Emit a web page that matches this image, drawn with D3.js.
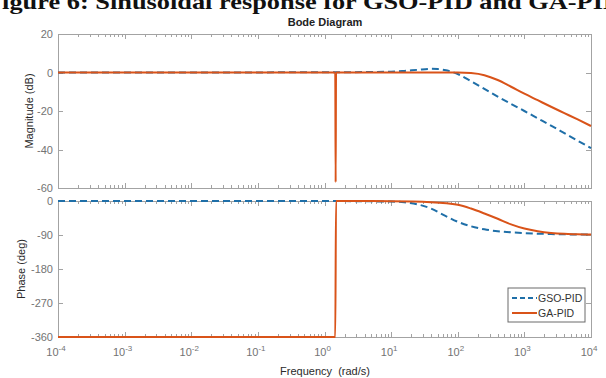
<!DOCTYPE html>
<html>
<head>
<meta charset="utf-8">
<script src="https://cdn.jsdelivr.net/npm/d3@7/dist/d3.min.js"></script>
<style>
body { margin: 0; background: #fff; }
svg text { font-family: "Liberation Sans", Arial, Helvetica, sans-serif; }
.axis path, .axis line { stroke: #a3a3a3; stroke-width: 1; shape-rendering: crispEdges; }
</style>
</head>
<body>
<svg id="chart" width="606" height="378"></svg>
<script>
// frequencies in rad/s, magnitude in dB, phase in deg
var gsoMagW = [0.0001, 1, 10, 15.8, 25.1, 39.8, 50.1, 63.1, 79.4, 100, 158, 251, 398, 631, 1000, 1585, 2512, 3981, 6310, 10000];
var gsoMag  = [0, 0.1, 0.4, 0.8, 1.4, 1.9, 1.8, 1.3, 0.5, -0.8, -4.5, -8.5, -12.5, -16.3, -20.0, -23.8, -27.6, -31.5, -35.4, -39.3];

var gaMagW = [0.0001, 1.45, 1.47, 1.49, 10, 100, 158, 251, 398, 631, 1000, 1585, 2512, 3981, 6310, 10000];
var gaMag  = [0, 0, -57, 0, 0, 0, -0.3, -1.4, -3.9, -7.4, -11.0, -14.4, -17.8, -21.1, -24.4, -27.8];

var gsoPhW = [0.0001, 1, 10, 15.8, 25.1, 39.8, 63.1, 100, 158, 251, 398, 631, 1000, 2512, 10000];
var gsoPh  = [0, -0.2, -1.5, -3.5, -9, -20, -38, -55, -67, -75, -80, -83, -85, -87.5, -89];

var gaPhW = [0.0001, 1.4, 1.45, 1.49, 1.55, 10, 39.8, 100, 158, 251, 398, 631, 1000, 1585, 2512, 3981, 6310, 10000];
var gaPh  = [-360, -360, -360, 0, 0, -0.5, -3, -10, -20, -33, -47, -62, -73, -80, -84.5, -87, -88, -89];

var xDecades = [-4, -3, -2, -1, 0, 1, 2, 3, 4];
var magTicks = [20, 0, -20, -40, -60];
var phTicks = [0, -90, -180, -270, -360];
var seriesNames = ["GSO-PID", "GA-PID"];
var colors = ["#1f6fa8", "#d95319"];

var svg = d3.select("#chart");

// scales
var x = d3.scaleLog().domain([1e-4, 1e4]).range([58, 591]);
var yMag = d3.scaleLinear().domain([-60, 20]).range([188, 34]);
var yPh = d3.scaleLinear().domain([-360, 0]).range([337, 201]);

var majors = xDecades.map(function(d) { return Math.pow(10, d); });
var minors = [];
xDecades.slice(0, -1).forEach(function(d) {
  for (var k = 2; k <= 9; k++) minors.push(k * Math.pow(10, d));
});

// caption, clipped at the top of the picture
svg.append("text")
    .attr("x", -14).attr("y", 9)
    .attr("textLength", 636)
    .attr("lengthAdjust", "spacingAndGlyphs")
    .style("font-family", "'Liberation Serif', 'Times New Roman', serif")
    .style("font-weight", "bold")
    .style("font-size", "22px")
    .attr("fill", "#111")
    .text("Figure 6: Sinusoidal response for GSO-PID and GA-PID");

svg.append("text")
    .attr("x", 325).attr("y", 26)
    .attr("text-anchor", "middle")
    .style("font-weight", "bold").style("font-size", "11px")
    .attr("fill", "#222")
    .text("Bode Diagram");

function drawBox(y, ticks) {
  var y0 = y.range()[0], y1 = y.range()[1];
  // bottom + top, majors and minors, ticks pointing inward
  svg.append("g").attr("class", "axis").attr("transform", "translate(0," + y0 + ")")
      .call(d3.axisBottom(x).tickValues(majors).tickSize(-5).tickSizeOuter(0).tickFormat(""));
  svg.append("g").attr("class", "axis").attr("transform", "translate(0," + y0 + ")")
      .call(d3.axisBottom(x).tickValues(minors).tickSize(-3).tickSizeOuter(0).tickFormat(""));
  svg.append("g").attr("class", "axis").attr("transform", "translate(0," + y1 + ")")
      .call(d3.axisTop(x).tickValues(majors).tickSize(-5).tickSizeOuter(0).tickFormat(""));
  svg.append("g").attr("class", "axis").attr("transform", "translate(0," + y1 + ")")
      .call(d3.axisTop(x).tickValues(minors).tickSize(-3).tickSizeOuter(0).tickFormat(""));
  // left + right
  var left = svg.append("g").attr("class", "axis").attr("transform", "translate(" + x.range()[0] + ",0)")
      .call(d3.axisLeft(y).tickValues(ticks).tickSize(-5).tickSizeOuter(0).tickPadding(5)
        .tickFormat(function(d) { return String(d); }));
  left.selectAll("text").attr("fill", "#737373").style("font-size", "11px")
      .style("font-family", "'Liberation Sans', Arial, sans-serif");
  svg.append("g").attr("class", "axis").attr("transform", "translate(" + x.range()[1] + ",0)")
      .call(d3.axisRight(y).tickValues(ticks).tickSize(-5).tickSizeOuter(0).tickFormat(""));
  svg.selectAll(".axis .domain").attr("stroke", "#a3a3a3");
}

drawBox(yMag, magTicks);
drawBox(yPh, phTicks);

// x tick labels 10^n
xDecades.forEach(function(d) {
  var t = svg.append("text")
      .attr("x", x(Math.pow(10, d)) - 2).attr("y", 356)
      .attr("text-anchor", "middle")
      .attr("fill", "#737373").style("font-size", "11px");
  t.append("tspan").text("10");
  t.append("tspan").attr("dy", -5).style("font-size", "8px").text(String(d));
});

// axis titles
svg.append("text")
    .attr("transform", "translate(33," + ((yMag.range()[0] + yMag.range()[1]) / 2) + ") rotate(-90)")
    .attr("text-anchor", "middle").attr("fill", "#2a2a2a").style("font-size", "11px")
    .text("Magnitude (dB)");
svg.append("text")
    .attr("transform", "translate(25," + ((yPh.range()[0] + yPh.range()[1]) / 2) + ") rotate(-90)")
    .attr("text-anchor", "middle").attr("fill", "#2a2a2a").style("font-size", "11px")
    .text("Phase (deg)");
svg.append("text")
    .attr("x", 325).attr("y", 375)
    .attr("text-anchor", "middle").attr("fill", "#2a2a2a").style("font-size", "11px")
    .attr("xml:space", "preserve")
    .text("Frequency  (rad/s)");

// curves
function zipPts(w, v) { return w.map(function(d, i) { return [d, v[i]]; }); }

function drawLine(pts, y, i) {
  var line = d3.line()
      .x(function(d) { return x(d[0]); })
      .y(function(d) { return y(d[1]); })
      .curve(d3.curveMonotoneX);
  svg.append("path")
      .attr("d", line(pts))
      .attr("fill", "none")
      .attr("stroke", colors[i])
      .attr("stroke-width", 2)
      .attr("stroke-dasharray", i === 0 ? "7,4" : null);
}

drawLine(zipPts(gsoMagW, gsoMag), yMag, 0);
drawLine(zipPts(gaMagW, gaMag), yMag, 1);
drawLine(zipPts(gsoPhW, gsoPh), yPh, 0);
drawLine(zipPts(gaPhW, gaPh), yPh, 1);

// legend
var lg = svg.append("g").attr("transform", "translate(508,288)");
lg.append("rect").attr("width", 77).attr("height", 34)
    .attr("fill", "#fff").attr("stroke", "#6a6a6a").attr("stroke-width", 1);
seriesNames.forEach(function(name, i) {
  var yy = 10 + i * 15;
  lg.append("line").attr("x1", 4).attr("x2", 29).attr("y1", yy).attr("y2", yy)
      .attr("stroke", colors[i]).attr("stroke-width", 2)
      .attr("stroke-dasharray", i === 0 ? "5,3" : null);
  lg.append("text").attr("x", 30).attr("y", yy + 4)
      .attr("fill", "#333").style("font-size", "10.5px").text(name);
});
</script>
</body>
</html>
